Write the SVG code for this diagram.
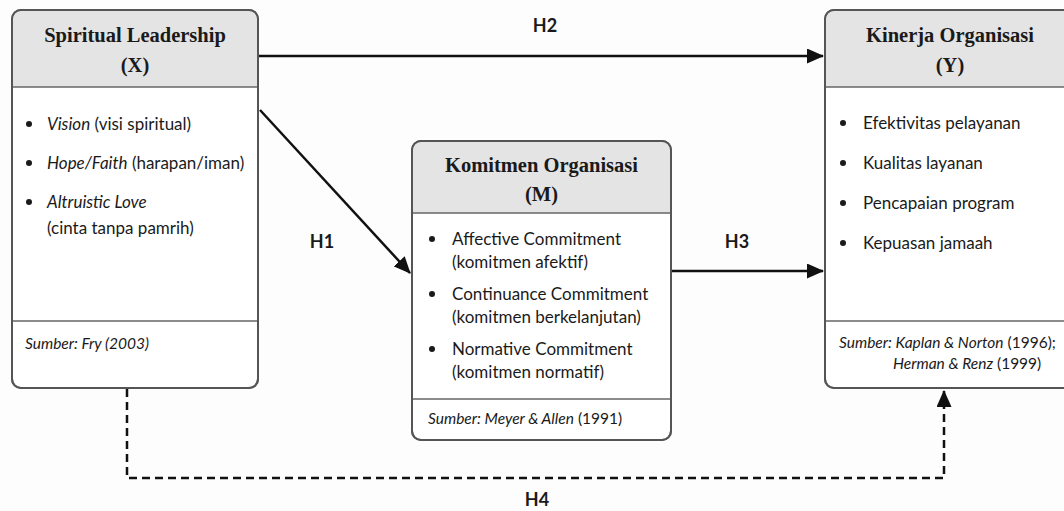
<svg xmlns="http://www.w3.org/2000/svg" width="1064" height="511" viewBox="0 0 1064 511">
<style>
.box{fill:#ffffff;stroke:#555;stroke-width:2}
.hdr{fill:#e4e4e4;stroke:none}
.div{stroke:#666;stroke-width:1.6}
.title{font-family:"Liberation Serif",serif;font-weight:bold;font-size:20.5px;fill:#1a1a1a;text-anchor:middle}
.txt{font-family:Lato,"Open Sans",sans-serif;font-size:17px;fill:#1a1a1a}
.src{font-family:Lato,"Open Sans",sans-serif;font-size:15.5px;fill:#1a1a1a}
.it{font-style:italic}
.lbl{font-family:Lato,"Open Sans",sans-serif;font-weight:bold;font-size:18px;fill:#1a1a1a;text-anchor:middle}
.con{fill:none;stroke:#111;stroke-width:2.5}
.dash{stroke-dasharray:8 5}
</style>
<defs>
<marker id="ah" markerUnits="userSpaceOnUse" markerWidth="17" markerHeight="15" refX="16" refY="7.5" orient="auto">
<path d="M0,0 L17,7.5 L0,15 z" fill="#111"/>
</marker>
</defs>
<rect width="1064" height="511" fill="#fdfdfd"/>

<g id="connectors">
<line class="con" x1="259" y1="56" x2="823" y2="56" marker-end="url(#ah)"/>
<line class="con" x1="260" y1="110" x2="410" y2="273" marker-end="url(#ah)"/>
<line class="con" x1="672" y1="271" x2="823" y2="271" marker-end="url(#ah)"/>
<path class="con dash" d="M127,389 V478 H944 V391" marker-end="url(#ah)"/>
<text class="lbl" x="545" y="32">H2</text>
<text class="lbl" x="322" y="248">H1</text>
<text class="lbl" x="737" y="248">H3</text>
<text class="lbl" x="537" y="506">H4</text>
</g>

<g id="node-x">
<rect class="box" x="12" y="10" width="246" height="378" rx="9"/>
<path class="hdr" d="M13,87 V19 a8,8 0 0 1 8,-8 H249 a8,8 0 0 1 8,8 V87 z"/>
<line class="div" x1="12" y1="87" x2="258" y2="87"/>
<line class="div" x1="12" y1="321" x2="258" y2="321"/>
<rect x="12" y="10" width="246" height="378" rx="9" fill="none" stroke="#555" stroke-width="2"/>
<text class="title" x="135" y="42">Spiritual Leadership</text>
<text class="title" x="135" y="72">(X)</text>
<circle cx="29" cy="124" r="3" fill="#1a1a1a"/>
<text class="txt" x="47" y="130"><tspan class="it">Vision</tspan> (visi spiritual)</text>
<circle cx="29" cy="163" r="3" fill="#1a1a1a"/>
<text class="txt" x="47" y="169"><tspan class="it">Hope/Faith</tspan> (harapan/iman)</text>
<circle cx="29" cy="202" r="3" fill="#1a1a1a"/>
<text class="txt" x="47" y="208"><tspan class="it">Altruistic Love</tspan></text>
<text class="txt" x="47" y="234">(cinta tanpa pamrih)</text>
<text class="src it" x="25" y="349">Sumber: Fry (2003)</text>
</g>

<g id="node-m">
<rect class="box" x="412" y="141" width="259" height="299" rx="9"/>
<path class="hdr" d="M413,213 V150 a8,8 0 0 1 8,-8 H662 a8,8 0 0 1 8,8 V213 z"/>
<line class="div" x1="412" y1="213" x2="671" y2="213"/>
<line class="div" x1="412" y1="399" x2="671" y2="399"/>
<rect x="412" y="141" width="259" height="299" rx="9" fill="none" stroke="#555" stroke-width="2"/>
<text class="title" x="541.5" y="172">Komitmen Organisasi</text>
<text class="title" x="541.5" y="201">(M)</text>
<circle cx="432" cy="239" r="3" fill="#1a1a1a"/>
<text class="txt" x="452" y="245">Affective Commitment</text>
<text class="txt" x="452" y="268">(komitmen afektif)</text>
<circle cx="432" cy="294" r="3" fill="#1a1a1a"/>
<text class="txt" x="452" y="300">Continuance Commitment</text>
<text class="txt" x="452" y="323">(komitmen berkelanjutan)</text>
<circle cx="432" cy="349" r="3" fill="#1a1a1a"/>
<text class="txt" x="452" y="355">Normative Commitment</text>
<text class="txt" x="452" y="378">(komitmen normatif)</text>
<text class="src" x="428" y="424"><tspan class="it">Sumber: Meyer &amp; Allen</tspan> (1991)</text>
</g>

<g id="node-y">
<rect class="box" x="825" y="10" width="247" height="378" rx="9"/>
<path class="hdr" d="M826,87 V19 a8,8 0 0 1 8,-8 H1063 a8,8 0 0 1 8,8 V87 z"/>
<line class="div" x1="825" y1="87" x2="1072" y2="87"/>
<line class="div" x1="825" y1="321" x2="1072" y2="321"/>
<rect x="825" y="10" width="247" height="378" rx="9" fill="none" stroke="#555" stroke-width="2"/>
<text class="title" x="950" y="42">Kinerja Organisasi</text>
<text class="title" x="950" y="72">(Y)</text>
<circle cx="843" cy="123" r="3" fill="#1a1a1a"/>
<text class="txt" x="863" y="129">Efektivitas pelayanan</text>
<circle cx="843" cy="163" r="3" fill="#1a1a1a"/>
<text class="txt" x="863" y="169">Kualitas layanan</text>
<circle cx="843" cy="203" r="3" fill="#1a1a1a"/>
<text class="txt" x="863" y="209">Pencapaian program</text>
<circle cx="843" cy="243" r="3" fill="#1a1a1a"/>
<text class="txt" x="863" y="249">Kepuasan jamaah</text>
<text class="src" x="839" y="348"><tspan class="it">Sumber: Kaplan &amp; Norton</tspan> (1996);</text>
<text class="src" x="893" y="369"><tspan class="it">Herman &amp; Renz</tspan> (1999)</text>
</g>
</svg>
